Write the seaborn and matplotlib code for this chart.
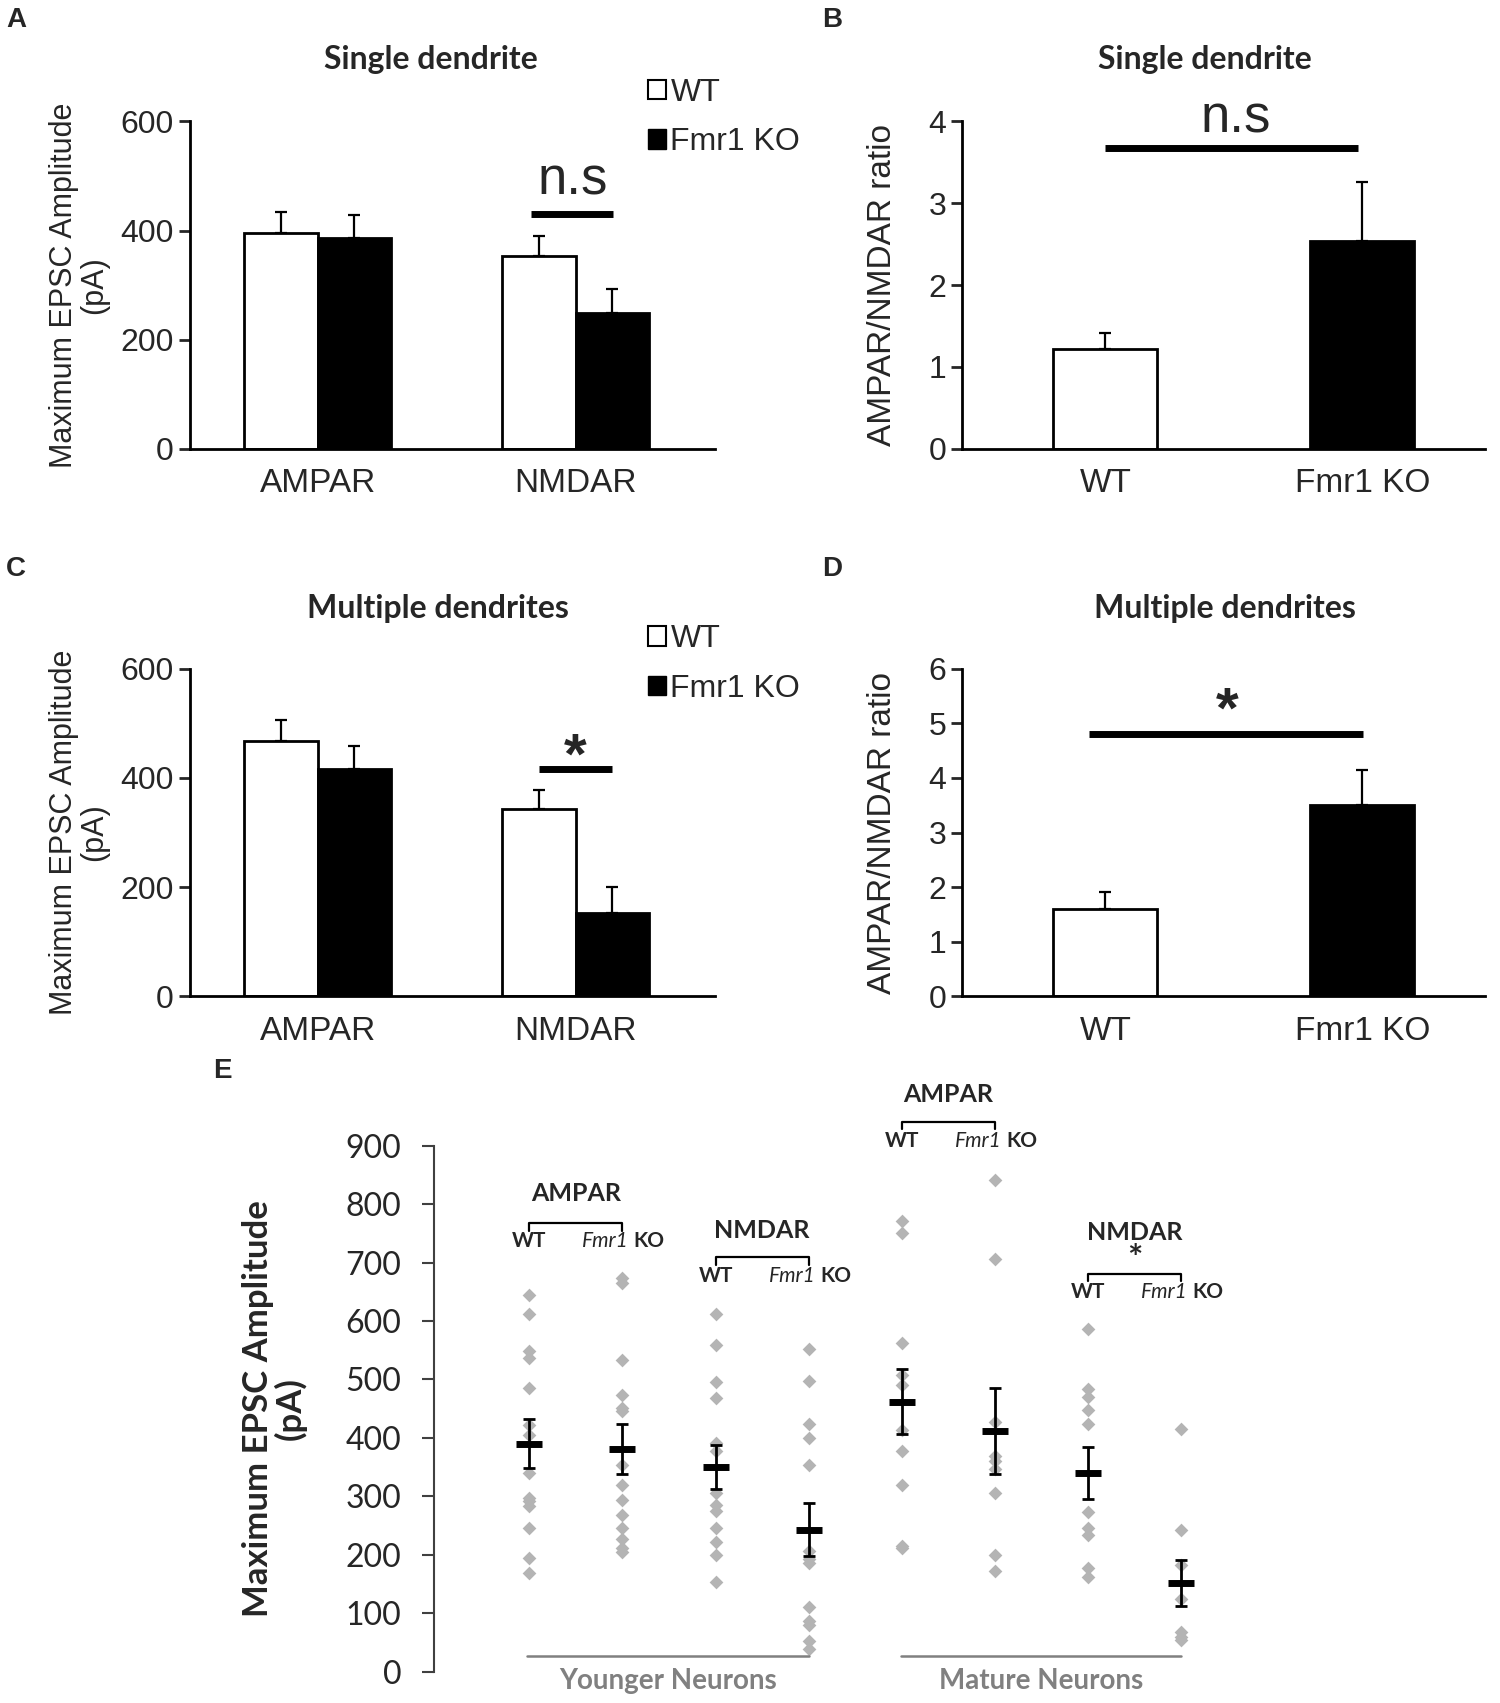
import numpy as np
import pandas as pd
import seaborn as sns
import matplotlib.pyplot as plt
from matplotlib.patches import Patch

receptors = ['AMPAR', 'NMDAR']
genotypes = ['WT', 'Fmr1 KO']

# A / C: maximum EPSC amplitude (pA), mean and SEM
single_wt_mean = [395, 354]
single_ko_mean = [386, 249]
single_wt_sem = [39, 36]
single_ko_sem = [43, 44]
multi_wt_mean = [467, 344]
multi_ko_mean = [417, 153]
multi_wt_sem = [40, 34]
multi_ko_sem = [42, 48]

# B / D: AMPAR/NMDAR ratio
single_ratio_mean = [1.22, 2.54]
single_ratio_sem = [0.20, 0.72]
multi_ratio_mean = [1.59, 3.50]
multi_ratio_sem = [0.32, 0.64]

# E: single cells (pA)
young_ampar_wt = [645, 612, 549, 537, 485, 422, 405, 340, 297, 292, 284, 246, 195, 168]
young_ampar_ko = [673, 665, 534, 474, 451, 446, 354, 320, 294, 268, 246, 227, 212, 205]
young_nmdar_wt = [612, 559, 496, 468, 391, 378, 306, 285, 275, 246, 222, 200, 154]
young_nmdar_ko = [553, 498, 424, 399, 353, 207, 192, 186, 111, 87, 80, 53, 38]
mature_ampar_wt = [771, 750, 562, 508, 491, 414, 378, 320, 215, 212]
mature_ampar_ko = [842, 706, 427, 369, 361, 346, 306, 199, 173]
mature_nmdar_wt = [586, 484, 470, 448, 424, 274, 246, 234, 178, 162]
mature_nmdar_ko = [415, 243, 183, 124, 67, 59, 54]
e_groups = ['young AMPAR WT', 'young AMPAR KO', 'young NMDAR WT', 'young NMDAR KO',
            'mature AMPAR WT', 'mature AMPAR KO', 'mature NMDAR WT', 'mature NMDAR KO']
e_mean = [390, 381, 350, 243, 462, 412, 340, 152]
e_sem = [42, 42, 37, 46, 56, 73, 44, 39]

sns.set_style('white')
plt.rcParams['font.family'] = ['Liberation Sans', 'DejaVu Sans']
lato = ['Lato', 'DejaVu Sans']

W, H = 1384.0, 1571.0
fig = plt.figure(figsize=(15, 17.03), dpi=100)


def box(x0, y0, x1, y1):
    return [x0 / W, 1 - y1 / H, (x1 - x0) / W, (y1 - y0) / H]


def style_bar_axes(ax):
    sns.despine(ax=ax)
    for s in ['left', 'bottom']:
        ax.spines[s].set_linewidth(2)
        ax.spines[s].set_color('black')
    ax.tick_params(axis='y', length=8, width=2, labelsize=23, direction='out', left=True)
    ax.tick_params(axis='x', length=0, labelsize=24, pad=14)
    ax.set_xlabel('')


def up_errors(ax, sems_by_hue):
    for cont, sems in zip(ax.containers, sems_by_hue):
        for bar, s in zip(cont, sems):
            x = bar.get_x() + bar.get_width() / 2
            ax.errorbar(x, bar.get_height(), yerr=[[0], [s]], fmt='none', ecolor='black',
                        elinewidth=1.6, capsize=4, capthick=1.6, zorder=1)


def amp_panel(ax, wt_mean, ko_mean, wt_sem, ko_sem):
    df = pd.DataFrame({'receptor': receptors * 2,
                       'genotype': ['WT'] * 2 + ['Fmr1 KO'] * 2,
                       'amp': wt_mean + ko_mean})
    sns.barplot(data=df, x='receptor', y='amp', hue='genotype', hue_order=genotypes,
                palette=['white', 'black'], width=0.572, edgecolor='black', linewidth=2,
                errorbar=None, legend=False, ax=ax, zorder=2)
    up_errors(ax, [wt_sem, ko_sem])
    ax.set_ylim(0, 600)
    ax.set_yticks([0, 200, 400, 600])
    ax.set_xlim(-0.496, 1.542)
    style_bar_axes(ax)
    ax.set_ylabel('Maximum EPSC Amplitude\n(pA)', fontsize=22, linespacing=1.0, labelpad=8)


def ratio_panel(ax, mean, sem, ymax):
    df = pd.DataFrame({'genotype': genotypes, 'ratio': mean})
    sns.barplot(data=df, x='genotype', y='ratio', hue='genotype', hue_order=genotypes,
                palette=['white', 'black'], width=0.405, edgecolor='black', linewidth=2,
                errorbar=None, legend=False, ax=ax, zorder=2)
    # with hue = x each container holds one bar
    up_errors(ax, [[s] for s in sem])
    ax.set_ylim(0, ymax)
    ax.set_yticks(range(0, ymax + 1))
    ax.set_xlim(-0.557, 1.477)
    style_bar_axes(ax)
    ax.set_ylabel('AMPAR/NMDAR ratio', fontsize=24, labelpad=22)


def legend(ax, y):
    handles = [Patch(facecolor='white', edgecolor='black', linewidth=1.5),
               Patch(facecolor='black', edgecolor='black')]
    ax.legend(handles, genotypes, loc='upper left', bbox_to_anchor=(598 / W, 1 - y / H),
              bbox_transform=fig.transFigure, frameon=False, fontsize=23,
              handlelength=0.55, handleheight=0.55, handletextpad=0.15,
              labelspacing=0.6, borderpad=0, borderaxespad=0)


title_font = dict(family=lato, fontweight='bold', fontsize=23, ha='center', va='center')

# A
axA = fig.add_axes(box(175, 112, 660, 414))
amp_panel(axA, single_wt_mean, single_ko_mean, single_wt_sem, single_ko_sem)
axA.plot([0.828, 1.147], [431, 431], color='black', lw=5, solid_capstyle='butt', clip_on=False)
axA.text(0.99, 492, 'n.s', fontsize=38, ha='center', va='center')
legend(axA, 72)
fig.text(398 / W, 1 - 55 / H, 'Single dendrite', **title_font)

# B
axB = fig.add_axes(box(888, 112, 1370, 414))
ratio_panel(axB, single_ratio_mean, single_ratio_sem, 4)
axB.plot([0.0, 0.983], [3.67, 3.67], color='black', lw=5, solid_capstyle='butt', clip_on=False)
axB.text(0.506, 4.04, 'n.s', fontsize=38, ha='center', va='center', clip_on=False)
fig.text(1112 / W, 1 - 55 / H, 'Single dendrite', **title_font)

# C
axC = fig.add_axes(box(175, 617, 660, 919))
amp_panel(axC, multi_wt_mean, multi_ko_mean, multi_wt_sem, multi_ko_sem)
axC.plot([0.857, 1.143], [417, 417], color='black', lw=5, solid_capstyle='butt', clip_on=False)
axC.text(1.0, 436, '*', fontsize=42, fontweight='bold', ha='center', va='center')
legend(axC, 576)
fig.text(404 / W, 1 - 561 / H, 'Multiple dendrites', **title_font)

# D
axD = fig.add_axes(box(888, 617, 1370, 919))
ratio_panel(axD, multi_ratio_mean, multi_ratio_sem, 6)
axD.plot([-0.063, 1.004], [4.81, 4.81], color='black', lw=5, solid_capstyle='butt', clip_on=False)
axD.text(0.473, 5.2, '*', fontsize=42, fontweight='bold', ha='center', va='center')
fig.text(1130 / W, 1 - 561 / H, 'Multiple dendrites', **title_font)

for letter, x, y in [('A', 15, 18), ('B', 768, 18), ('C', 15, 525), ('D', 768, 525), ('E', 205, 988)]:
    fig.text(x / W, 1 - y / H, letter, fontsize=20, fontweight='bold', ha='center', va='center')

# E
axE = fig.add_axes(box(400, 1057, 1133, 1542))
cells = [young_ampar_wt, young_ampar_ko, young_nmdar_wt, young_nmdar_ko,
         mature_ampar_wt, mature_ampar_ko, mature_nmdar_wt, mature_nmdar_ko]
df_e = pd.concat([pd.DataFrame({'group': g, 'amp': v}) for g, v in zip(e_groups, cells)])
sns.stripplot(data=df_e, x='group', y='amp', order=e_groups, jitter=False, marker='D',
              color='#b4b4b4', size=7, linewidth=0, ax=axE, zorder=1)
xpos = np.arange(len(e_groups))
axE.errorbar(xpos, e_mean, yerr=e_sem, fmt='none', ecolor='black',
             elinewidth=2, capsize=4, capthick=2, zorder=3)
axE.plot(xpos, e_mean, linestyle='none', marker='_', color='black',
         markersize=19, markeredgewidth=5, zorder=4)
axE.set_xlim(-1.027, 7.5)
axE.set_ylim(0, 900)
axE.set_yticks(range(0, 901, 100))
sns.despine(ax=axE, bottom=True)
axE.spines['left'].set_color('#404040')
axE.spines['left'].set_linewidth(1.5)
axE.set_xticks([])
axE.set_xlabel('')
axE.tick_params(axis='y', length=9, width=1.5, color='#404040', labelsize=23, pad=14, left=True)
for lab in axE.get_yticklabels():
    lab.set_family(lato)
    lab.set_color('#262626')
axE.set_ylabel('Maximum EPSC Amplitude\n(pA)', fontsize=25, fontweight='bold',
               family=lato, linespacing=1.0, labelpad=28)


def bracket(ax, x0, x1, y, title, title_y, label_y, star_y=None):
    ax.plot([x0, x0, x1, x1], [y - 13, y, y, y - 13], color='black', lw=1.6, clip_on=False)
    ax.text((x0 + x1) / 2, title_y, title, family=lato, fontweight='bold', fontsize=18,
            ha='center', va='center', clip_on=False)
    if star_y is not None:
        ax.text((x0 + x1) / 2, star_y, '*', family=lato, fontweight='bold', fontsize=26,
                ha='center', va='center', clip_on=False)
    ax.text(x0, label_y, 'WT', family=lato, fontweight='bold', fontsize=15,
            ha='center', va='center', clip_on=False)
    ax.text(x1 + 0.07, label_y, 'Fmr1', family=lato, style='italic', fontsize=15,
            ha='right', va='center', clip_on=False)
    ax.text(x1 + 0.12, label_y, 'KO', family=lato, fontweight='bold', fontsize=15,
            ha='left', va='center', clip_on=False)


bracket(axE, 0, 1, 768, 'AMPAR', 818, 737)
bracket(axE, 2, 3, 709, 'NMDAR', 755, 677)
bracket(axE, 4, 5, 941, 'AMPAR', 987, 909)
bracket(axE, 6, 7, 681, 'NMDAR', 751, 649, star_y=705)

for x0, x1, name in [(-0.02, 3.0, 'Younger Neurons'), (3.99, 7.0, 'Mature Neurons')]:
    axE.plot([x0, x1], [26, 26], color='#808080', lw=1.8, clip_on=False)
    axE.text((x0 + x1) / 2, -16, name, family=lato, fontweight='bold', fontsize=20,
             color='#808080', ha='center', va='center', clip_on=False)

fig.savefig('out.png', dpi=100)
